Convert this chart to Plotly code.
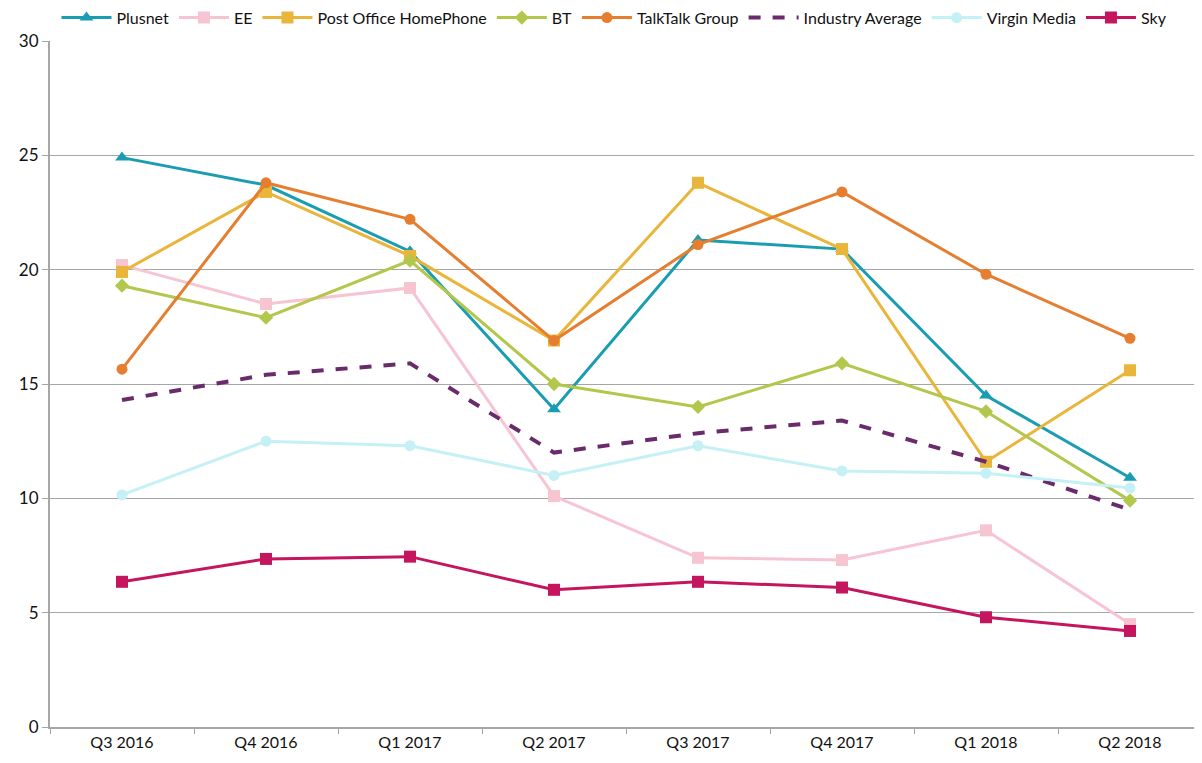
import plotly.graph_objects as go

quarters = ["Q3 2016", "Q4 2016", "Q1 2017", "Q2 2017", "Q3 2017", "Q4 2017", "Q1 2018", "Q2 2018"]

plusnet = [24.9, 23.7, 20.8, 13.9, 21.3, 20.9, 14.5, 10.9]
ee = [20.2, 18.5, 19.2, 10.1, 7.4, 7.3, 8.6, 4.5]
post_office = [19.9, 23.4, 20.6, 16.9, 23.8, 20.9, 11.6, 15.6]
bt = [19.3, 17.9, 20.4, 15.0, 14.0, 15.9, 13.8, 9.9]
talktalk = [15.65, 23.8, 22.2, 16.9, 21.1, 23.4, 19.8, 17.0]
industry = [14.3, 15.4, 15.9, 12.0, 12.85, 13.4, 11.6, 9.5]
virgin = [10.15, 12.5, 12.3, 11.0, 12.3, 11.2, 11.1, 10.45]
sky = [6.35, 7.35, 7.45, 6.0, 6.35, 6.1, 4.8, 4.2]

series = [
    ("Plusnet", plusnet, "#1A9DB1", "triangle-up", "solid", 12),
    ("EE", ee, "#F7C4D2", "square", "solid", 12),
    ("Post Office HomePhone", post_office, "#E9B53A", "square", "solid", 12),
    ("BT", bt, "#B3C74C", "diamond", "solid", 11),
    ("TalkTalk Group", talktalk, "#E67E30", "circle", "solid", 11),
    ("Industry Average", industry, "#6A2B6B", None, "dash", 0),
    ("Virgin Media", virgin, "#C4F0F6", "circle", "solid", 11),
    ("Sky", sky, "#C5155E", "square", "solid", 12),
]

fig = go.Figure()
for name, vals, color, sym, dash, size in series:
    if sym is None:
        fig.add_trace(go.Scatter(
            x=quarters, y=vals, name=name, mode="lines",
            line=dict(color=color, width=4, dash=dash),
        ))
    else:
        fig.add_trace(go.Scatter(
            x=quarters, y=vals, name=name, mode="lines+markers",
            line=dict(color=color, width=3, dash=dash),
            marker=dict(symbol=sym, size=size, color=color),
        ))

fig.update_layout(
    width=1194, height=755,
    margin=dict(l=42, r=0, t=33, b=36, autoexpand=False),
    paper_bgcolor="white", plot_bgcolor="white",
    font=dict(family="Lato, Open Sans, sans-serif", size=16, color="#111111"),
    legend=dict(orientation="h", x=0.49, xanchor="center",
                y=1.034, yanchor="middle",
                font=dict(size=16), itemwidth=50,
                bgcolor="rgba(0,0,0,0)"),
    showlegend=True,
)
fig.update_xaxes(
    type="category", tickson="boundaries", ticks="outside", ticklen=5,
    tickcolor="#A6A6A6", showline=True, linecolor="#A6A6A6", linewidth=2,
    showgrid=False, tickfont=dict(size=16), range=[-0.5, 7.5], automargin=False,
)
fig.update_yaxes(
    range=[0, 30], dtick=5, ticks="outside", ticklen=6, tickcolor="#A6A6A6",
    showline=True, linecolor="#A6A6A6", linewidth=2,
    showgrid=True, gridcolor="#A6A6A6", gridwidth=1, zeroline=False,
    tickfont=dict(size=17), automargin=False,
)

fig.write_html("out.html")
